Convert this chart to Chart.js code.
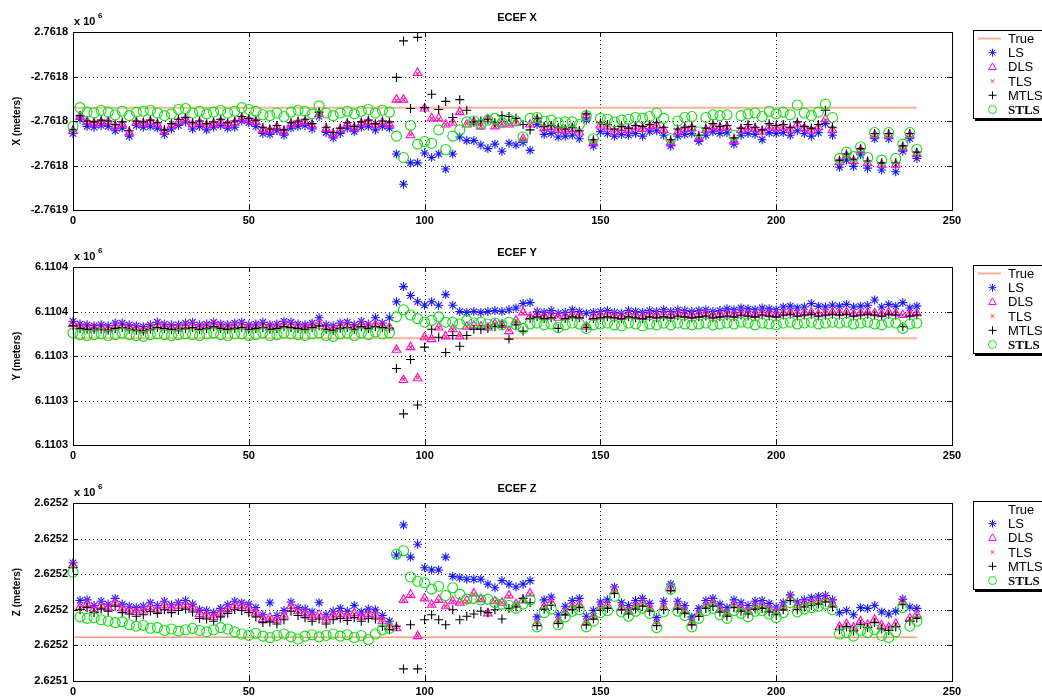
<!DOCTYPE html>
<html>
<head>
<meta charset="utf-8">
<script src="https://cdn.jsdelivr.net/npm/chart.js@4.4.1/dist/chart.umd.min.js"></script>
<style>
  body { margin: 0; background: #fff; width: 1042px; height: 696px; overflow: hidden; position: relative; }
  canvas { position: absolute; left: 0; }
</style>
</head>
<body>
<canvas id="cx" width="1042" height="232" style="top:0px"></canvas>
<canvas id="cy" width="1042" height="232" style="top:235px"></canvas>
<canvas id="cz" width="1042" height="225" style="top:471px"></canvas>
<script>
// epochs (every second solution)
const epochs = [0,2,4,6,8,10,12,14,16,18,20,22,24,26,28,30,32,34,36,38,40,42,44,46,48,50,52,54,56,58,60,62,64,66,68,70,72,74,76,78,80,82,84,86,88,90,
  92,94,96,98,100,102,104,106,108,110,112,114,116,118,120,122,124,126,128,130,
  132,134,136,138,140,142,144,146,148,150,152,154,156,158,160,162,164,166,168,170,172,174,176,178,180,182,184,186,188,190,192,194,196,198,200,202,204,206,208,210,212,214,216,
  218,220,222,224,226,228,230,232,234,236,238,240];

const xTickLabels = ['0', '50', '100', '150', '200', '250'];
const legendNames = ['True', 'LS', 'DLS', 'TLS', 'MTLS', 'STLS'];

// ---- ECEF X (metres above the lower axis limit) ----
const xTrue = 11.5;
const xTickText = ['-2.7619', '-2.7618', '-2.7618', '-2.7618', '2.7618'];
const xLS = [8.6,10.2,9.4,9.3,9.5,9.4,8.9,9.2,8.3,9.5,9.3,9.4,9.2,8.5,9.1,9.5,9.9,9.1,9.4,9.0,9.3,9.5,9.2,9.3,10.0,9.8,9.4,8.6,8.5,8.9,8.4,9.2,9.4,9.5,9.1,10.5,8.7,8.1,8.6,9.2,8.8,9.3,9.4,9.0,9.4,9.2,
  6.3,2.9,5.3,5.3,6.4,5.9,6.3,4.6,6.3,8.2,7.8,7.8,7.3,6.9,7.4,6.6,7.5,7.3,7.6,6.7,
  9.6,8.5,8.6,8.2,8.3,8.4,8.0,10.1,7.2,8.8,8.6,8.3,8.5,8.4,8.6,8.3,8.8,8.9,8.4,7.2,8.3,8.5,8.6,7.7,8.4,8.8,8.6,8.7,7.4,8.4,8.6,8.5,7.9,8.7,8.6,8.7,8.4,8.9,8.6,8.3,8.7,9.7,8.4,
  4.8,5.6,4.9,6.2,4.7,8.0,4.5,8.0,4.3,6.6,8.0,5.8];
const xDLS = [8.9,10.5,9.9,9.7,9.8,9.9,9.4,9.6,8.7,9.8,9.7,9.9,9.6,8.8,9.5,9.9,10.2,9.6,9.8,9.5,9.7,9.9,9.6,9.8,10.3,10.1,9.9,9.0,8.9,9.3,8.8,9.6,9.8,9.9,9.5,10.8,9.1,8.5,9.0,9.6,9.2,9.7,9.9,9.5,9.8,9.6,
  12.4,12.4,8.4,15.4,11.4,10.3,10.3,9.6,9.8,11.0,9.6,9.9,9.4,10.2,9.4,9.7,9.6,9.8,8.0,9.6,
  10.1,9.2,9.3,9.0,8.9,9.1,8.7,10.6,7.6,9.5,9.3,8.8,9.2,9.0,9.3,9.1,9.4,9.5,9.0,7.6,8.8,9.1,9.2,8.1,9.0,9.4,9.2,9.3,7.8,9.0,9.3,9.1,8.8,9.4,9.2,9.3,9.0,9.6,9.2,8.9,9.3,10.2,9.0,
  5.4,6.1,5.5,6.7,5.3,8.4,5.1,8.4,5.1,7.0,8.4,6.3];
const xTLS = [8.9,10.4,9.9,9.8,9.8,9.8,9.4,9.7,8.8,9.8,9.6,9.9,9.7,8.8,9.5,9.8,10.2,9.7,9.8,9.5,9.6,9.9,9.6,9.7,10.3,10.1,9.8,9.0,9.0,9.3,8.9,9.6,9.7,9.9,9.5,10.7,9.1,8.6,9.0,9.6,9.3,9.7,9.8,9.5,9.8,9.6,
  12.3,12.4,8.5,15.3,11.4,10.3,10.2,9.6,9.8,11.0,9.7,9.9,9.4,10.1,9.4,9.7,9.6,9.8,8.1,9.6,
  10.0,9.2,9.3,9.0,8.9,9.1,8.8,10.5,7.7,9.5,9.3,8.9,9.2,9.0,9.3,9.1,9.4,9.4,9.0,7.7,8.8,9.1,9.2,8.2,9.0,9.4,9.2,9.3,7.9,9.0,9.3,9.1,8.8,9.4,9.2,9.3,9.0,9.6,9.2,8.9,9.3,10.1,9.0,
  5.4,6.1,5.5,6.7,5.3,8.4,5.1,8.4,5.1,7.0,8.4,6.3];
const xMTLS = [9.0,10.6,10.0,9.9,10.1,10.0,9.6,9.9,8.9,10.0,9.9,10.1,9.8,9.0,9.7,10.2,10.4,9.8,10.0,9.7,9.9,10.2,9.8,10.0,10.5,10.3,10.1,9.3,9.1,9.5,9.0,9.8,10.0,10.2,9.7,11.0,9.3,8.7,9.2,9.8,9.4,9.9,10.1,9.7,10.0,9.9,
  14.9,19.0,11.4,19.4,11.5,13.0,11.3,12.2,10.4,12.4,11.2,9.9,10.0,10.2,9.8,10.6,10.5,10.3,9.6,9.0,
  10.3,9.4,9.5,9.3,9.1,9.3,8.9,10.8,7.9,9.8,9.6,9.1,9.4,9.2,9.5,9.4,9.6,9.8,9.3,7.9,9.1,9.3,9.4,8.4,9.2,9.7,9.4,9.5,8.1,9.2,9.6,9.3,9.0,9.7,9.5,9.6,9.3,9.9,9.4,9.2,9.6,11.2,9.3,
  5.6,6.3,5.7,6.9,5.5,8.6,5.3,8.6,5.3,7.2,8.6,6.5];
const xSTLS = [9.4,11.5,11.0,10.9,11.2,11.0,10.7,11.1,10.6,11.0,11.1,11.2,10.9,10.6,10.8,11.3,11.4,10.9,11.1,10.8,11.0,11.2,10.9,11.1,11.5,11.3,11.1,10.7,10.6,10.9,10.5,11.0,11.2,11.1,10.8,11.7,10.9,10.6,10.9,11.1,10.8,11.1,11.3,10.9,11.2,11.0,
  8.3,5.9,9.5,7.4,7.7,7.5,9.0,6.8,8.3,9.0,9.9,10.0,9.6,10.1,10.3,9.8,10.2,10.0,8.2,10.3,
  10.4,10.0,10.1,9.8,9.9,9.9,9.6,10.6,8.0,10.3,10.2,9.9,10.1,10.2,10.4,10.3,10.5,10.9,10.3,8.0,10.0,10.4,10.5,8.8,10.4,10.7,10.6,10.7,8.4,10.6,10.8,10.9,10.5,11.1,10.8,11.0,10.7,11.8,10.9,10.6,11.0,11.9,10.4,
  5.8,6.5,6.0,7.1,5.9,8.7,5.6,8.7,5.8,7.4,8.7,6.8];

// ---- ECEF Y ----
const yTrue = 12.0;
const yTickText = ['6.1103', '6.1103', '6.1103', '6.1104', '6.1104'];
const yLS = [13.9,13.6,13.5,13.4,13.5,13.4,13.7,13.7,13.5,13.4,13.3,13.5,13.8,13.6,13.5,13.5,13.7,13.8,13.5,13.6,13.8,13.6,13.5,13.7,13.8,13.5,13.6,13.8,13.5,13.6,13.9,13.8,13.6,13.5,13.7,14.3,13.5,13.4,13.7,13.8,13.5,13.9,13.6,14.3,13.7,14.3,
  16.1,17.8,16.8,16.1,15.7,16.1,15.7,16.9,15.7,15.0,14.9,15.0,14.9,15.0,15.1,15.0,15.2,15.4,15.9,16.0,
  15.0,14.9,15.1,14.8,14.9,15.2,15.0,14.8,14.9,15.0,15.1,14.9,14.8,15.1,15.0,14.9,15.1,15.0,15.2,15.0,15.2,15.1,15.0,15.1,15.2,15.0,15.1,15.3,15.2,15.4,15.3,15.2,15.4,15.3,15.2,15.5,15.6,15.4,15.5,15.9,15.6,15.5,15.7,
  15.6,15.8,15.5,15.6,15.7,16.3,15.5,15.8,15.6,16.0,15.4,15.6];
const yDLS = [13.6,13.3,13.2,13.1,13.2,13.0,13.3,13.4,13.2,13.1,12.9,13.2,13.4,13.3,13.2,13.1,13.3,13.4,13.2,13.3,13.5,13.3,13.2,13.3,13.4,13.2,13.3,13.4,13.2,13.3,13.5,13.4,13.3,13.2,13.4,13.6,13.2,13.0,13.3,13.4,13.2,13.5,13.3,13.5,13.4,13.2,
  10.7,7.3,11.0,7.5,12.1,11.9,13.2,12.2,13.0,12.2,13.3,13.4,13.3,13.2,13.6,13.5,12.8,14.0,14.9,14.4,
  14.6,14.4,14.5,14.3,14.4,14.6,14.5,13.3,14.4,14.5,14.6,14.5,14.4,14.6,14.5,14.4,14.6,14.5,14.6,14.5,14.7,14.6,14.5,14.6,14.7,14.5,14.6,14.7,14.6,14.8,14.7,14.6,14.8,14.7,14.6,14.8,14.9,14.7,14.8,14.9,14.7,14.8,14.9,
  14.8,14.9,14.7,14.8,14.9,14.8,14.7,14.9,14.8,14.6,14.7,14.8];
const yTLS = [13.5,13.3,13.2,13.2,13.2,13.1,13.3,13.3,13.2,13.1,13.0,13.2,13.4,13.2,13.2,13.2,13.3,13.3,13.2,13.3,13.4,13.3,13.2,13.3,13.4,13.3,13.3,13.4,13.2,13.3,13.4,13.4,13.3,13.3,13.4,13.5,13.2,13.1,13.3,13.4,13.2,13.4,13.3,13.5,13.4,13.3,
  10.8,7.4,11.0,7.6,12.1,12.0,13.2,12.2,13.0,12.3,13.3,13.3,13.3,13.2,13.5,13.5,12.9,14.0,14.8,14.4,
  14.5,14.4,14.5,14.4,14.4,14.5,14.5,13.4,14.4,14.5,14.6,14.5,14.4,14.5,14.5,14.4,14.6,14.5,14.6,14.5,14.6,14.6,14.5,14.6,14.7,14.5,14.6,14.7,14.6,14.7,14.7,14.6,14.8,14.7,14.6,14.8,14.8,14.7,14.8,14.8,14.7,14.8,14.8,
  14.8,14.8,14.7,14.8,14.8,14.8,14.7,14.8,14.8,14.6,14.7,14.8];
const yMTLS = [13.4,13.1,13.0,13.0,13.0,12.9,13.1,13.2,13.0,12.9,12.8,13.0,13.2,13.1,13.0,13.0,13.1,13.2,13.0,13.1,13.3,13.1,13.0,13.1,13.2,13.0,13.1,13.2,13.0,13.1,13.3,13.2,13.1,13.0,13.2,13.4,13.0,12.9,13.1,13.2,13.0,13.3,13.1,13.3,13.2,13.1,
  8.6,3.5,9.6,4.5,11.0,13.0,12.1,10.4,12.3,11.1,12.3,13.0,13.0,13.1,13.3,13.4,11.9,13.5,12.8,14.2,
  14.4,14.2,14.3,13.1,14.2,14.4,14.3,13.2,14.2,14.3,14.4,14.3,14.2,14.4,14.3,14.2,14.4,14.3,14.4,14.3,14.5,14.4,14.3,14.4,14.5,14.3,14.4,14.5,14.4,14.6,14.5,14.4,14.6,14.5,14.4,14.6,14.7,14.5,14.6,14.7,14.5,14.6,14.7,
  14.6,14.7,14.5,14.6,14.7,14.6,14.5,14.7,14.6,13.3,14.5,14.6];
const ySTLS = [12.6,12.4,12.3,12.4,12.5,12.3,12.4,12.6,12.4,12.3,12.2,12.4,12.5,12.4,12.3,12.4,12.5,12.4,12.3,12.5,12.6,12.4,12.3,12.5,12.5,12.3,12.4,12.6,12.3,12.4,12.6,12.5,12.4,12.3,12.5,12.6,12.3,12.2,12.5,12.6,12.3,12.6,12.4,12.7,12.5,12.6,
  14.4,15.2,14.6,14.2,13.8,14.0,14.4,13.8,13.8,13.6,14.0,13.7,13.8,13.6,13.7,13.5,13.8,13.5,13.1,13.6,
  13.7,13.5,13.6,13.2,13.5,13.7,13.6,13.1,13.5,13.6,13.7,13.5,13.4,13.7,13.6,13.4,13.6,13.5,13.7,13.5,13.7,13.6,13.5,13.6,13.7,13.5,13.6,13.7,13.6,13.8,13.7,13.5,13.7,13.6,13.5,13.7,13.8,13.6,13.7,13.8,13.6,13.7,13.8,
  13.7,13.8,13.6,13.7,13.8,13.6,13.5,13.8,13.7,13.1,13.6,13.7];

// ---- ECEF Z ----
const zTrue = 6.16;
const zTickText = ['2.6251', '2.6252', '2.6252', '2.6252', '2.6252', '2.6252'];
const zLS = [16.6,11.3,11.4,10.6,11.2,10.8,11.6,10.8,10.5,10.3,10.5,11.0,10.6,11.2,10.7,11.0,11.3,10.8,10.0,9.9,9.6,10.2,10.7,11.2,11.0,10.8,10.3,9.3,11.0,9.2,9.9,11.1,10.3,10.1,9.7,11.0,9.3,9.8,10.2,9.8,10.6,9.7,10.1,10.0,9.2,8.4,
  17.7,21.9,17.4,19.2,15.9,15.6,15.6,17.4,14.7,14.5,14.3,14.3,14.3,13.6,13.1,14.1,13.6,13.2,13.6,14.1,
  9.0,11.4,11.8,9.3,10.5,11.3,11.6,9.1,9.9,11.1,11.4,13.2,11.0,10.6,11.3,11.6,10.9,8.9,11.2,13.6,11.2,10.6,9.0,10.2,11.3,11.6,10.8,10.3,11.4,11.0,10.6,11.2,11.3,10.9,10.4,11.0,12.1,11.1,11.4,11.7,11.9,12.0,11.4,
  9.6,9.9,9.3,10.3,10.2,10.6,9.7,9.4,9.8,11.5,10.4,10.2];
const zDLS = [16.3,10.4,10.8,10.1,10.6,10.3,11.0,10.2,10.0,9.7,9.9,10.4,10.0,10.6,10.2,10.5,10.7,10.3,9.4,9.3,9.0,9.6,10.1,10.6,10.5,10.2,9.6,8.7,8.9,8.6,9.2,10.5,9.8,9.5,9.0,9.3,8.6,9.2,9.4,9.1,9.5,9.0,9.4,9.3,8.4,7.6,
  7.4,11.4,12.1,6.3,11.6,10.7,11.4,10.5,11.2,11.0,11.3,12.3,11.5,9.5,11.2,11.0,12.0,10.8,11.3,12.3,
  8.1,10.4,11.0,8.4,9.6,10.4,10.7,8.2,9.0,10.3,10.6,12.6,10.3,9.8,10.5,10.9,10.2,8.1,10.4,13.0,10.5,9.8,8.2,9.4,10.6,10.9,10.0,9.5,10.7,10.2,9.8,10.4,10.6,10.1,9.7,10.3,11.6,10.4,10.8,11.0,11.2,11.5,10.8,
  7.6,8.0,7.5,8.4,7.9,8.6,7.8,7.5,8.0,11.1,8.8,9.3];
const zTLS = [16.2,10.3,10.8,10.1,10.5,10.3,10.9,10.2,10.0,9.8,9.9,10.3,10.0,10.5,10.2,10.4,10.6,10.3,9.5,9.3,9.1,9.6,10.0,10.5,10.5,10.2,9.6,8.8,8.9,8.7,9.2,10.4,9.8,9.5,9.1,9.3,8.7,9.2,9.4,9.1,9.4,9.0,9.4,9.3,8.5,7.7,
  7.5,11.4,12.0,6.4,11.5,10.7,11.3,10.5,11.2,11.0,11.2,12.2,11.5,9.6,11.2,11.0,11.9,10.8,11.3,12.2,
  8.2,10.4,10.9,8.5,9.6,10.4,10.6,8.3,9.0,10.3,10.5,12.5,10.3,9.8,10.5,10.8,10.2,8.2,10.4,12.9,10.5,9.8,8.3,9.4,10.5,10.8,10.0,9.5,10.6,10.2,9.8,10.4,10.5,10.1,9.7,10.3,11.5,10.4,10.7,11.0,11.1,11.4,10.8,
  7.7,8.0,7.6,8.4,7.9,8.6,7.9,7.6,8.0,11.0,8.8,9.2];
const zMTLS = [15.9,10.0,10.3,9.6,10.1,9.8,10.5,9.6,9.4,9.1,9.3,9.8,9.5,10.0,9.6,9.9,10.1,9.7,8.8,8.7,8.4,9.0,9.5,10.0,9.9,9.6,9.0,8.2,8.3,8.0,8.6,9.8,9.2,8.9,8.4,8.7,8.0,8.6,8.8,8.5,8.9,8.4,8.8,8.7,7.7,7.2,
  7.7,1.7,7.9,1.7,8.6,9.3,8.6,7.9,10.0,8.6,9.1,9.4,9.8,9.6,10.0,8.7,10.2,10.4,11.6,11.0,
  7.8,10.1,10.6,8.1,9.3,10.0,10.3,7.9,8.7,9.9,10.2,12.3,10.0,9.4,10.1,10.5,9.8,7.8,10.0,12.7,10.1,9.5,7.9,9.1,10.2,10.5,9.7,9.1,10.3,9.8,9.4,10.1,10.2,9.7,9.3,10.0,11.3,10.0,10.4,10.6,10.8,11.1,10.4,
  7.2,7.6,7.0,7.9,7.5,8.2,7.3,7.1,7.6,10.7,8.4,8.8];
const zSTLS = [15.3,9.0,8.8,8.9,8.6,8.4,8.2,8.3,7.9,7.7,7.8,7.4,7.5,7.1,7.3,7.0,7.2,7.4,7.1,6.9,7.2,7.5,7.3,6.9,6.6,6.4,6.7,6.3,6.1,6.4,6.6,6.2,5.9,6.3,6.5,6.2,6.4,6.6,6.3,6.5,6.1,6.4,5.8,6.6,7.2,7.4,
  17.8,18.3,14.6,14.0,13.8,12.9,13.3,12.0,13.1,12.2,11.5,11.6,11.4,11.5,11.0,10.8,10.6,10.2,10.8,11.4,
  7.6,9.6,10.1,7.9,9.0,9.8,10.0,7.6,8.4,9.6,9.9,11.9,9.7,9.1,9.8,10.2,9.5,7.5,9.7,12.9,9.8,9.2,7.6,8.8,9.9,10.2,9.3,8.8,9.9,9.5,9.0,9.8,9.9,9.4,8.9,9.6,11.0,9.7,10.1,10.3,10.5,10.8,10.0,
  6.6,6.8,6.3,7.1,6.8,7.2,6.4,6.1,6.9,10.3,7.7,8.4];

// marker styles shared by all three panels
const STYLES = {
  LS:   { pointStyle: 'star',     radius: 4.5, color: '#1a1aff' },
  DLS:  { pointStyle: 'triangle', radius: 5,   color: '#ff00ff' },
  TLS:  { pointStyle: 'crossRot', radius: 2.5, color: '#ff3030' },
  MTLS: { pointStyle: 'cross',    radius: 4.5, color: '#000000' },
  STLS: { pointStyle: 'circle',   radius: 5,   color: '#10e010' }
};

const pts = arr => arr.map((v, i) => ({ x: epochs[i], y: v }));

function scatterSet(name, arr, order) {
  const s = STYLES[name];
  return {
    label: name, data: pts(arr), showLine: false, order: order, clip: false,
    pointStyle: s.pointStyle, pointRadius: s.radius, pointHoverRadius: s.radius,
    borderColor: s.color, pointBorderColor: s.color, pointBackgroundColor: 'rgba(0,0,0,0)',
    pointBorderWidth: 1.1
  };
}

// small copy of the marker shapes for the legend box
function marker(ctx, style, x, y, r) {
  ctx.beginPath();
  if (style === 'circle') {
    ctx.arc(x, y, r, 0, Math.PI * 2);
  } else if (style === 'triangle') {
    ctx.moveTo(x, y - r); ctx.lineTo(x + r * 0.95, y + r * 0.65); ctx.lineTo(x - r * 0.95, y + r * 0.65); ctx.closePath();
  } else if (style === 'cross' || style === 'star') {
    ctx.moveTo(x - r, y); ctx.lineTo(x + r, y); ctx.moveTo(x, y - r); ctx.lineTo(x, y + r);
  }
  if (style === 'crossRot' || style === 'star') {
    const d = r * 0.72;
    ctx.moveTo(x - d, y - d); ctx.lineTo(x + d, y + d); ctx.moveTo(x + d, y - d); ctx.lineTo(x - d, y + d);
  }
  ctx.stroke();
}

const framePlugin = {
  id: 'frame',
  beforeDatasetsDraw(chart, args, o) {
    const { ctx, chartArea: a, scales } = chart;
    ctx.save();
    ctx.strokeStyle = '#222';
    ctx.lineWidth = 1;
    ctx.setLineDash([1, 3]);
    scales.x.ticks.forEach(t => {
      if (t.value <= scales.x.min || t.value >= scales.x.max) return;
      const px = Math.round(scales.x.getPixelForValue(t.value)) + 0.5;
      ctx.beginPath(); ctx.moveTo(px, a.top); ctx.lineTo(px, a.bottom); ctx.stroke();
    });
    scales.y.ticks.forEach(t => {
      if (t.value <= scales.y.min || t.value >= scales.y.max) return;
      const py = Math.round(scales.y.getPixelForValue(t.value)) + 0.5;
      ctx.beginPath(); ctx.moveTo(a.left, py); ctx.lineTo(a.right, py); ctx.stroke();
    });
    ctx.restore();
  },
  afterDraw(chart, args, o) {
    const { ctx, chartArea: a, scales } = chart;
    ctx.save();
    // axes box with inward ticks
    ctx.strokeStyle = '#000';
    ctx.lineWidth = 1;
    ctx.strokeRect(Math.round(a.left) + 0.5, Math.round(a.top) + 0.5, Math.round(a.right - a.left), Math.round(a.bottom - a.top));
    ctx.beginPath();
    scales.x.ticks.forEach(t => {
      const px = Math.round(scales.x.getPixelForValue(t.value)) + 0.5;
      ctx.moveTo(px, a.bottom); ctx.lineTo(px, a.bottom - 5);
      ctx.moveTo(px, a.top); ctx.lineTo(px, a.top + 5);
    });
    scales.y.ticks.forEach(t => {
      const py = Math.round(scales.y.getPixelForValue(t.value)) + 0.5;
      ctx.moveTo(a.left, py); ctx.lineTo(a.left + 5, py);
      ctx.moveTo(a.right, py); ctx.lineTo(a.right - 5, py);
    });
    ctx.stroke();

    // title, exponent and axis label
    ctx.fillStyle = '#000';
    ctx.font = 'bold 11px "Liberation Sans", Arial, sans-serif';
    ctx.textAlign = 'center'; ctx.textBaseline = 'middle';
    ctx.fillText(o.title, 517, a.top - 14);
    ctx.textAlign = 'left';
    ctx.fillText('x 10', a.left + 1, a.top - 10);
    ctx.font = 'bold 8px "Liberation Sans", Arial, sans-serif';
    ctx.fillText('6', a.left + 25, a.top - 16);
    ctx.save();
    ctx.translate(17, (a.top + a.bottom) / 2);
    ctx.rotate(-Math.PI / 2);
    ctx.textAlign = 'center';
    ctx.font = 'bold 10px "Liberation Sans", Arial, sans-serif';
    ctx.fillText(o.ylabel, 0, 0);
    ctx.restore();

    // legend box
    const bx = 973, by = Math.round(a.top) - 2;
    ctx.fillStyle = '#fff';
    ctx.fillRect(bx, by, 80, 88);
    ctx.strokeStyle = '#000';
    ctx.lineWidth = 1;
    ctx.strokeRect(bx + 0.5, by + 0.5, 80, 88);
    ctx.fillStyle = '#000';
    ctx.fillRect(bx + 2, by + 89, 80, 2);
    legendNames.forEach((name, k) => {
      const ry = by + 8.5 + k * 14.2;
      if (name === 'True') {
        if (o.trueInLegend) {
          ctx.strokeStyle = o.trueColor; ctx.lineWidth = o.trueWidth;
          ctx.beginPath(); ctx.moveTo(978, ry); ctx.lineTo(1001, ry); ctx.stroke();
        }
      } else {
        const s = STYLES[name];
        ctx.strokeStyle = s.color; ctx.lineWidth = 1;
        marker(ctx, s.pointStyle, 992.5, ry, name === 'TLS' ? 2.5 : 4);
      }
      ctx.fillStyle = '#000';
      ctx.textAlign = 'left'; ctx.textBaseline = 'middle';
      ctx.font = name === 'STLS' ? 'bold 13px "Liberation Serif", serif' : '13px "Liberation Sans", Arial, sans-serif';
      ctx.fillText(name, 1008, ry + 1);
    });
    ctx.restore();
  }
};

function panel(id, cfg) {
  const tickFont = { family: '"Liberation Sans", Arial, sans-serif', weight: 'bold', size: 11 };
  return new Chart(document.getElementById(id), {
    type: 'scatter',
    data: {
      datasets: [
        { label: 'True', data: [{ x: 0, y: cfg.truth }, { x: 240, y: cfg.truth }], showLine: true,
          borderColor: cfg.trueColor, borderWidth: cfg.trueWidth, pointRadius: 0, order: 5 },
        scatterSet('LS', cfg.ls, 4),
        scatterSet('DLS', cfg.dls, 3),
        scatterSet('TLS', cfg.tls, 2),
        scatterSet('MTLS', cfg.mtls, 1),
        scatterSet('STLS', cfg.stls, 0)
      ]
    },
    options: {
      responsive: false,
      animation: false,
      devicePixelRatio: 1,
      layout: { padding: { top: 32, right: 90, left: 0, bottom: 0 } },
      plugins: {
        legend: { display: false },
        tooltip: { enabled: false },
        frame: cfg.frame
      },
      scales: {
        x: {
          type: 'linear', min: 0, max: 250,
          afterFit: s => { s.height = cfg.xHeight; },
          grid: { display: false, drawTicks: false },
          border: { display: false },
          ticks: { stepSize: 50, padding: 4, maxRotation: 0, color: '#000', font: tickFont,
                   callback: (v, i) => xTickLabels[i] }
        },
        y: {
          min: 0, max: cfg.ymax,
          afterFit: s => { s.width = 73; },
          grid: { display: false, drawTicks: false },
          border: { display: false },
          ticks: { stepSize: 5, padding: 5, color: '#000', font: tickFont,
                   callback: (v, i) => cfg.yLabels[i] }
        }
      }
    },
    plugins: [framePlugin]
  });
}

panel('cx', {
  truth: xTrue, ls: xLS, dls: xDLS, tls: xTLS, mtls: xMTLS, stls: xSTLS,
  ymax: 20, yLabels: xTickText, xHeight: 22, trueColor: '#f7b496', trueWidth: 2,
  frame: { title: 'ECEF X', ylabel: 'X (meters)', trueInLegend: true, trueColor: '#f7b496', trueWidth: 2 }
});
panel('cy', {
  truth: yTrue, ls: yLS, dls: yDLS, tls: yTLS, mtls: yMTLS, stls: ySTLS,
  ymax: 20, yLabels: yTickText, xHeight: 22, trueColor: '#f7b496', trueWidth: 2,
  frame: { title: 'ECEF Y', ylabel: 'Y (meters)', trueInLegend: true, trueColor: '#f7b496', trueWidth: 2 }
});
panel('cz', {
  truth: zTrue, ls: zLS, dls: zDLS, tls: zTLS, mtls: zMTLS, stls: zSTLS,
  ymax: 25, yLabels: zTickText, xHeight: 15, trueColor: '#f06a3c', trueWidth: 1,
  frame: { title: 'ECEF Z', ylabel: 'Z (meters)', trueInLegend: false, trueColor: '#f06a3c', trueWidth: 1 }
});
</script>
</body>
</html>
